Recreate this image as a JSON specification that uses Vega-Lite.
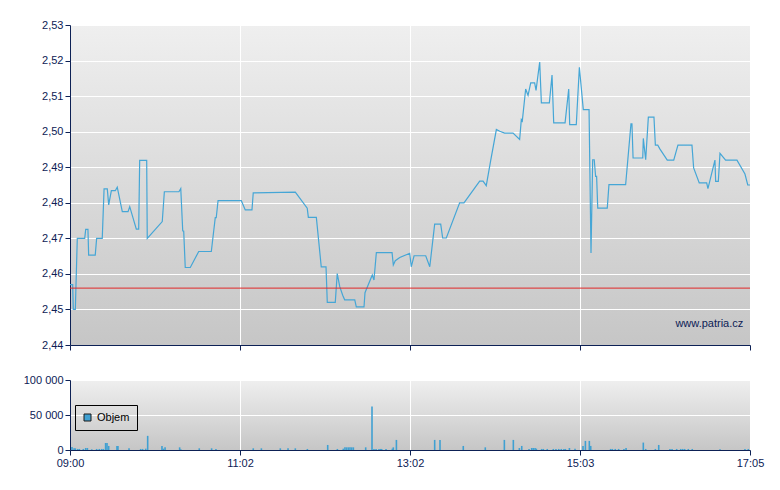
{
  "$schema": "https://vega.github.io/schema/vega-lite/v6.json",
  "padding": {"left": 23, "top": 19, "right": 5, "bottom": 5},
  "background": "#ffffff",
  "spacing": 23,
  "resolve": {"legend": {"color": "independent"}},
  "config": {
    "font": "Liberation Sans",
    "view": {"stroke": null, "fill": {"gradient": "linear", "x1": 0, "y1": 0, "x2": 0, "y2": 1, "stops": [{"offset": 0, "color": "#efefef"}, {"offset": 1, "color": "#c6c6c6"}]}},
    "axis": {
      "domainColor": "#0d2155", "tickColor": "#0d2155", "labelColor": "#0d2155",
      "labelFont": "Liberation Sans", "labelFontSize": 11, "tickSize": 5, "labelPadding": 2,
      "gridColor": "#ffffff", "gridOpacity": 1, "gridWidth": 1, "title": null, "domainWidth": 1,
      "labelOverlap": false
    },
    "axisX": {"labelFlush": false, "labelAlign": "center"},
    "legend": {
      "orient": "none", "legendX": 5, "legendY": 25, "strokeColor": "#000000", "padding": 7,
      "symbolType": "square", "symbolSize": 49, "symbolStrokeColor": "#1a1a1a", "symbolStrokeWidth": 1,
      "labelFontSize": 11, "labelColor": "#000000", "labelFont": "Liberation Sans", "title": null, "labelOffset": 4
    }
  },
  "datasets": {
    "price": [
      {"t":0,"p":2.457},{"t":1.9,"p":2.457},{"t":2.35,"p":2.450},{"t":3.8,"p":2.450},{"t":5.2,"p":2.470},{"t":10.5,"p":2.470},{"t":11.2,"p":2.4725},{"t":12.8,"p":2.4725},{"t":13.3,"p":2.4653},{"t":18.0,"p":2.4653},{"t":19.0,"p":2.470},{"t":23.0,"p":2.470},{"t":24.3,"p":2.4839},{"t":26.6,"p":2.4839},{"t":27.6,"p":2.4794},{"t":29.5,"p":2.4834},{"t":32.3,"p":2.4834},{"t":33.7,"p":2.4844},{"t":37.3,"p":2.4775},{"t":41.4,"p":2.4775},{"t":42.6,"p":2.4789},{"t":47.3,"p":2.4726},{"t":49.0,"p":2.4726},{"t":49.7,"p":2.4919},{"t":54.7,"p":2.4919},{"t":55.1,"p":2.470},{"t":65.8,"p":2.4747},{"t":67.3,"p":2.4831},{"t":77.7,"p":2.4831},{"t":79.0,"p":2.484},{"t":80.4,"p":2.4721},{"t":81.1,"p":2.472},{"t":82.2,"p":2.4618},{"t":85.8,"p":2.4618},{"t":91.8,"p":2.4663},{"t":100.8,"p":2.4663},{"t":103.6,"p":2.4758},{"t":104.3,"p":2.4758},{"t":105.6,"p":2.4806},{"t":122.2,"p":2.4806},{"t":125.0,"p":2.478},{"t":129.8,"p":2.478},{"t":130.7,"p":2.4828},{"t":160.7,"p":2.483},{"t":169.2,"p":2.4785},{"t":170.0,"p":2.4759},{"t":175.7,"p":2.4759},{"t":179.2,"p":2.462},{"t":182.6,"p":2.462},{"t":183.5,"p":2.452},{"t":189.2,"p":2.452},{"t":190.6,"p":2.4601},{"t":192.4,"p":2.4564},{"t":194.5,"p":2.454},{"t":195.9,"p":2.4527},{"t":203.1,"p":2.4527},{"t":204.2,"p":2.4507},{"t":209.7,"p":2.4507},{"t":210.4,"p":2.4547},{"t":215.6,"p":2.4597},{"t":216.8,"p":2.4583},{"t":218.5,"p":2.466},{"t":229.7,"p":2.466},{"t":230.6,"p":2.4625},{"t":232.0,"p":2.4637},{"t":235.2,"p":2.4646},{"t":242.3,"p":2.4658},{"t":243.4,"p":2.462},{"t":245.4,"p":2.4651},{"t":253.7,"p":2.4651},{"t":256.6,"p":2.462},{"t":260.1,"p":2.474},{"t":264.4,"p":2.474},{"t":265.8,"p":2.4701},{"t":268.4,"p":2.4701},{"t":277.9,"p":2.48},{"t":281.0,"p":2.48},{"t":292.2,"p":2.4861},{"t":294.6,"p":2.4861},{"t":296.9,"p":2.4848},{"t":300.1,"p":2.492},{"t":304.1,"p":2.5006},{"t":306.5,"p":2.5001},{"t":310.0,"p":2.4996},{"t":316.0,"p":2.4996},{"t":320.7,"p":2.4978},{"t":321.9,"p":2.5034},{"t":322.6,"p":2.503},{"t":325.0,"p":2.512},{"t":326.7,"p":2.5102},{"t":328.6,"p":2.5137},{"t":331.4,"p":2.5137},{"t":332.4,"p":2.5116},{"t":335.0,"p":2.5196},{"t":336.2,"p":2.5081},{"t":341.9,"p":2.5081},{"t":343.8,"p":2.5159},{"t":345.0,"p":2.5025},{"t":353.1,"p":2.5025},{"t":355.7,"p":2.512},{"t":356.4,"p":2.502},{"t":361.1,"p":2.502},{"t":363.3,"p":2.5181},{"t":366.1,"p":2.5062},{"t":370.2,"p":2.5062},{"t":371.6,"p":2.4659},{"t":372.8,"p":2.4921},{"t":373.9,"p":2.4921},{"t":374.9,"p":2.4874},{"t":375.6,"p":2.4874},{"t":376.4,"p":2.4785},{"t":383.2,"p":2.4785},{"t":384.4,"p":2.4851},{"t":396.3,"p":2.4851},{"t":400.1,"p":2.5022},{"t":400.8,"p":2.5022},{"t":401.6,"p":2.4926},{"t":408.5,"p":2.4926},{"t":408.9,"p":2.4981},{"t":410.6,"p":2.4921},{"t":412.5,"p":2.5041},{"t":416.5,"p":2.5041},{"t":417.5,"p":2.4962},{"t":419.2,"p":2.4962},{"t":420.8,"p":2.4951},{"t":426.0,"p":2.492},{"t":430.6,"p":2.492},{"t":433.6,"p":2.4962},{"t":443.6,"p":2.4962},{"t":444.8,"p":2.4898},{"t":448.8,"p":2.4856},{"t":454.1,"p":2.4856},{"t":455.0,"p":2.484},{"t":460.0,"p":2.492},{"t":460.5,"p":2.486},{"t":462.4,"p":2.486},{"t":463.6,"p":2.4939},{"t":467.6,"p":2.492},{"t":475.7,"p":2.492},{"t":481.4,"p":2.4881},{"t":483.4,"p":2.485},{"t":485,"p":2.485}
    ],
    "volume": [
      {"t":1.4,"v":4300},{"t":2.9,"v":2400},{"t":3.8,"v":2400},{"t":5.5,"v":1500},{"t":6.7,"v":1500},{"t":9.5,"v":1500},{"t":11.2,"v":2900},{"t":12.4,"v":2900},{"t":15.5,"v":1000},{"t":19.0,"v":1500},{"t":20.9,"v":1500},{"t":22.6,"v":1500},{"t":23.8,"v":1500},{"t":25.4,"v":10000},{"t":26.4,"v":10000},{"t":27.6,"v":5800},{"t":33.5,"v":5800},{"t":34.2,"v":5800},{"t":42.1,"v":2400},{"t":50.4,"v":1500},{"t":51.8,"v":1500},{"t":54.0,"v":1900},{"t":55.4,"v":20200},{"t":65.6,"v":5800},{"t":66.6,"v":1900},{"t":67.8,"v":3800},{"t":78.2,"v":3800},{"t":79.0,"v":1000},{"t":92.2,"v":2400},{"t":101.0,"v":2400},{"t":104.1,"v":1500},{"t":130.7,"v":2400},{"t":136.5,"v":2400},{"t":150.0,"v":2400},{"t":155.5,"v":2400},{"t":160.7,"v":2400},{"t":169.3,"v":1500},{"t":183.8,"v":7200},{"t":190.7,"v":1500},{"t":194.9,"v":1900},{"t":196.1,"v":3800},{"t":197.3,"v":3800},{"t":198.5,"v":3800},{"t":199.7,"v":3800},{"t":200.9,"v":3800},{"t":202.1,"v":3800},{"t":210.9,"v":3800},{"t":215.4,"v":62000},{"t":216.8,"v":1500},{"t":218.3,"v":1500},{"t":220.4,"v":1500},{"t":221.6,"v":1500},{"t":222.3,"v":1500},{"t":225.4,"v":1500},{"t":229.9,"v":1900},{"t":230.6,"v":3800},{"t":232.8,"v":14400},{"t":260.1,"v":14400},{"t":263.9,"v":14400},{"t":280.5,"v":5800},{"t":296.2,"v":3800},{"t":309.8,"v":14400},{"t":316.2,"v":14400},{"t":320.5,"v":2900},{"t":322.2,"v":5800},{"t":327.4,"v":1500},{"t":329.3,"v":2900},{"t":330.4,"v":2900},{"t":331.7,"v":2900},{"t":332.6,"v":1900},{"t":336.4,"v":1500},{"t":337.6,"v":1500},{"t":340.4,"v":1500},{"t":344.7,"v":1500},{"t":346.6,"v":1500},{"t":348.6,"v":1500},{"t":350.4,"v":1500},{"t":352.3,"v":1500},{"t":353.3,"v":1500},{"t":356.2,"v":2900},{"t":360.2,"v":1900},{"t":365.9,"v":5800},{"t":367.6,"v":13000},{"t":370.4,"v":13000},{"t":371.4,"v":5800},{"t":385.6,"v":1500},{"t":386.8,"v":1500},{"t":388.9,"v":1500},{"t":391.3,"v":1500},{"t":395.1,"v":1500},{"t":396.6,"v":2900},{"t":408.9,"v":10600},{"t":410.6,"v":1500},{"t":417.5,"v":1500},{"t":419.9,"v":7200},{"t":427.9,"v":1500},{"t":429.4,"v":1500},{"t":432.7,"v":1500},{"t":435.6,"v":1500},{"t":437.0,"v":1500},{"t":438.4,"v":1500},{"t":441.0,"v":1500},{"t":443.8,"v":1500},{"t":463.6,"v":1000},{"t":481.4,"v":1500},{"t":483.8,"v":1500}
    ]
  },
  "vconcat": [
    {
      "width": 680,
      "height": 320,
      "layer": [
        {
          "data": {"name": "price"},
          "mark": {"type": "line", "color": "#45a6d6", "strokeWidth": 1.2},
          "encoding": {
            "x": {"field": "t", "type": "quantitative", "scale": {"domain": [0, 485], "nice": false, "zero": false},
                  "axis": {"values": [0, 121.25, 242.5, 363.75, 485], "labels": false, "grid": true}},
            "y": {"field": "p", "type": "quantitative", "scale": {"domain": [2.44, 2.53], "nice": false, "zero": false},
                  "axis": {"values": [2.44, 2.45, 2.46, 2.47, 2.48, 2.49, 2.5, 2.51, 2.52, 2.53], "labelOverlap": false, "labelExpr": "replace(format(datum.value, '.2f'), '.', ',')", "grid": true}}
          }
        },
        {
          "data": {"values": [{"p": 2.456}]},
          "mark": {"type": "rule", "color": "#e02828", "strokeWidth": 1},
          "encoding": {
            "y": {"field": "p", "type": "quantitative", "scale": {"domain": [2.44, 2.53], "nice": false, "zero": false},
                  "axis": {"values": [2.44, 2.45, 2.46, 2.47, 2.48, 2.49, 2.5, 2.51, 2.52, 2.53], "labelOverlap": false, "labelExpr": "replace(format(datum.value, '.2f'), '.', ',')", "grid": true}}
          }
        },
        {
          "data": {"values": [{"label": "www.patria.cz", "t": 480.2, "p": 2.44506}]},
          "mark": {"type": "text", "align": "right", "baseline": "alphabetic", "fontSize": 11, "color": "#0d2155", "font": "Liberation Sans"},
          "encoding": {
            "x": {"field": "t", "type": "quantitative", "scale": {"domain": [0, 485], "nice": false, "zero": false},
                  "axis": {"values": [0, 121.25, 242.5, 363.75, 485], "labels": false, "grid": true}},
            "y": {"field": "p", "type": "quantitative", "scale": {"domain": [2.44, 2.53], "nice": false, "zero": false},
                  "axis": {"values": [2.44, 2.45, 2.46, 2.47, 2.48, 2.49, 2.5, 2.51, 2.52, 2.53], "labelOverlap": false, "labelExpr": "replace(format(datum.value, '.2f'), '.', ',')", "grid": true}},
            "text": {"field": "label"}
          }
        }
      ]
    },
    {
      "width": 680,
      "height": 70,
      "data": {"name": "volume"},
      "mark": {"type": "bar", "size": 1.6},
      "encoding": {
        "x": {"field": "t", "type": "quantitative", "scale": {"domain": [0, 485], "nice": false, "zero": false, "padding": 0},
              "axis": {"values": [0, 121.25, 242.5, 363.75, 485], "labelExpr": "datum.value == 0 ? '09:00' : datum.value < 200 ? '11:02' : datum.value < 300 ? '13:02' : datum.value < 400 ? '15:03' : '17:05'", "grid": true}},
        "y": {"field": "v", "type": "quantitative", "scale": {"domain": [0, 100000], "nice": false},
              "axis": {"values": [0, 50000, 100000], "labelExpr": "replace(format(datum.value, ','), ',', ' ')", "grid": true}},
        "color": {"datum": "Objem", "type": "nominal", "scale": {"range": ["#3fa0d2"]}}
      }
    }
  ]
}
